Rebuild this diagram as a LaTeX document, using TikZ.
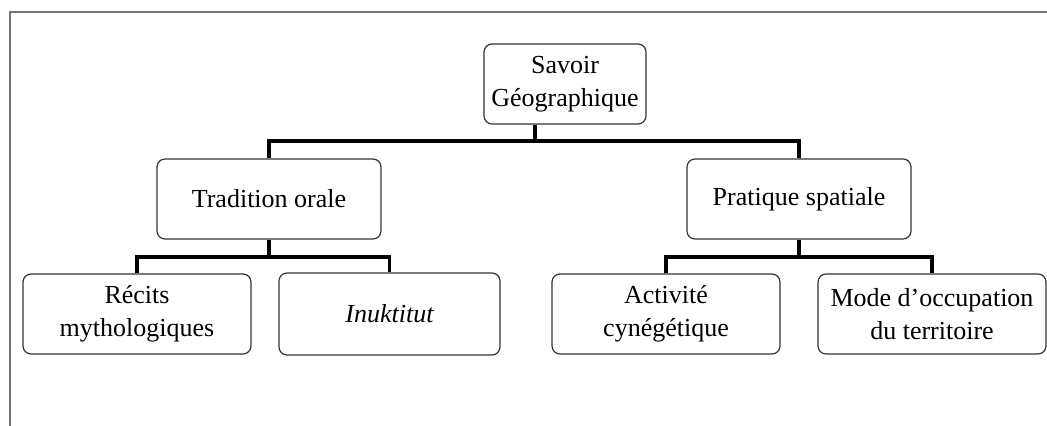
\documentclass[tikz,border=0pt]{standalone}
\usepackage{fontspec}
\setmainfont{Liberation Serif}
\tikzset{
	box/.style={draw=black!80, line width=0.6pt, rounded corners=4pt, align=center, inner sep=0pt, minimum height=40pt, font=\fontsize{13}{16.5}\selectfont},
	link/.style={line width=1.6pt},
	frame/.style={draw=black!55, line width=0.7pt}
}
\begin{document}
\begin{tikzpicture}[x=0.5pt,y=0.5pt]
	\def\rowa{342}
	\def\rowb{227}
	\def\rowc{112}
	\useasboundingbox (0,0) rectangle (1047,426);

	% frame
	\draw[frame] (1047,414) -- (10,414) -- (10,0);

	\node[box, minimum width=81pt] (savoir) at (565,\rowa) {Savoir\\Géographique};

	\node[box, minimum width=112pt] (trad) at (269,\rowb) {Tradition orale};
	\node[box, minimum width=112pt] (prat) at (799,\rowb) {Pratique spatiale};

	\node[box, minimum width=114pt] (recits) at (137,\rowc) {Récits\\mythologiques};
	\node[box, minimum width=110.5pt, minimum height=41pt] (inuk) at (389.5,\rowc) {\itshape Inuktitut};
	\node[box, minimum width=114pt] (activ) at (666,\rowc) {Activité\\cynégétique};
	\node[box, minimum width=114pt] (mode) at (932,\rowc) {Mode d’occupation\\du territoire};

	\coordinate (hub0) at (535,285);
	\coordinate (hub1) at (269,169);
	\coordinate (hub2) at (799,169);

	\draw[link] (savoir.south -| hub0) -- (hub0);
	\draw[link] (trad.north) |- (hub0) -| (prat.north);

	\draw[link] (trad.south) -- (hub1);
	\draw[link] (recits.north) |- (hub1) -| (inuk.north);

	\draw[link] (prat.south) -- (hub2);
	\draw[link] (activ.north) |- (hub2) -| (mode.north);
\end{tikzpicture}
\end{document}
